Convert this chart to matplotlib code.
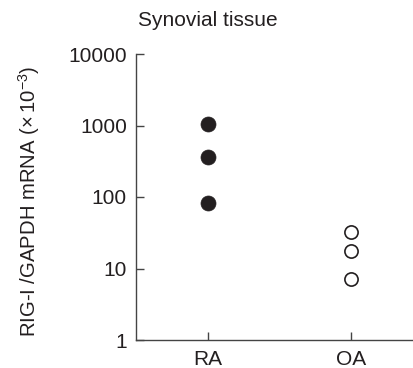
import matplotlib
matplotlib.use("Agg")
import matplotlib.pyplot as plt
import numpy as np

plt.rcParams['font.family'] = ['Liberation Sans', 'DejaVu Sans']
plt.rcParams['mathtext.fontset'] = 'custom'
plt.rcParams['mathtext.rm'] = 'Liberation Sans'

groups = ["RA", "OA"]
ra_values = [1050, 365, 83]
oa_values = [32, 17.6, 7.1]
yticks = [1, 10, 100, 1000, 10000]
ytick_labels = ["1", "10", "100", "1000", "10000"]

W, H = 414, 368
fig = plt.figure(figsize=(W/100, H/100), dpi=100)
ax = fig.add_axes([136/W, 1-340/H, (414-136)/W, (340-54)/H])

col = "#231f20"
ax.plot([0]*len(ra_values), ra_values, 'o', ms=10.8, mfc=col, mec=col, mew=0.5, ls='none')
ax.plot([1]*len(oa_values), oa_values, 'o', ms=9.5, mfc='white', mec=col, mew=1.2, ls='none')

ax.set_yscale('log')
ax.set_ylim(1, 10000)
ax.set_xlim(-0.503, 1.441)
ax.set_yticks(yticks)
ax.set_yticklabels(ytick_labels)
ax.yaxis.set_minor_locator(matplotlib.ticker.NullLocator())
ax.set_xticks([0, 1])
ax.set_xticklabels(groups)

for s in ['top', 'right']:
    ax.spines[s].set_visible(False)
for s in ['left', 'bottom']:
    ax.spines[s].set_color("#444444")
    ax.spines[s].set_linewidth(1.0)

ax.tick_params(axis='both', direction='in', length=5.5, width=1.0, color="#444444",
               labelsize=15, labelcolor=col)
ax.tick_params(axis='y', pad=6.5)
ax.tick_params(axis='x', pad=7)

ax.set_ylabel(r"RIG-I /GAPDH mRNA ($\times\,10^{-3}$)", fontsize=14.6, color=col)
ax.yaxis.set_label_coords(-(136-42)/(414-136), 0.485)
fig.text(207.5/W, 1-21/H, "Synovial tissue", ha='center', va='center', fontsize=15, color=col)

fig.savefig("out.png", dpi=100)
